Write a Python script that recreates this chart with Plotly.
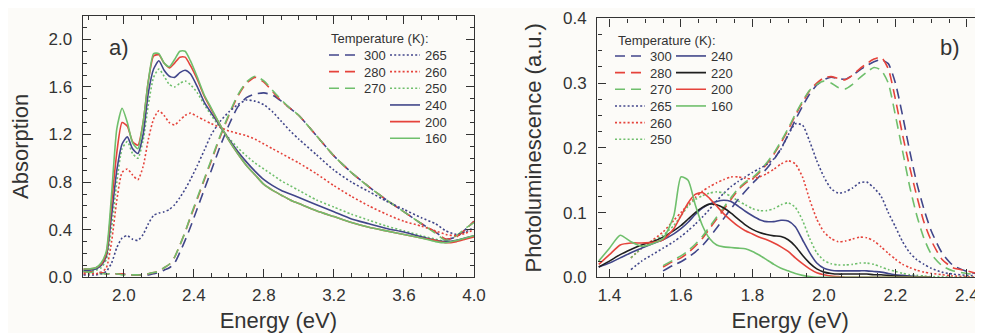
import plotly.graph_objects as go

# ---------------- data: panel a (absorption) ----------------
E_a = [1.77, 1.80, 1.84, 1.87, 1.90, 1.93, 1.96, 1.99, 2.02, 2.05, 2.08, 2.11, 2.14, 2.17, 2.20,
       2.23, 2.26, 2.29, 2.32, 2.35, 2.38, 2.42, 2.46, 2.50, 2.55, 2.60, 2.65, 2.70, 2.75, 2.80,
       2.85, 2.90, 2.95, 3.00, 3.10, 3.20, 3.30, 3.40, 3.50, 3.60, 3.70, 3.78, 3.84, 3.90, 3.95, 4.00]

abs_300 = [0.05, 0.05, 0.04, 0.04, 0.03, 0.03, 0.03, 0.03, 0.02, 0.02, 0.02, 0.02, 0.02, 0.03, 0.04,
           0.06, 0.08, 0.12, 0.21, 0.31, 0.42, 0.58, 0.74, 0.90, 1.10, 1.28, 1.43, 1.51, 1.54, 1.55,
           1.53, 1.48, 1.42, 1.36, 1.19, 1.02, 0.88, 0.76, 0.65, 0.55, 0.45, 0.38, 0.32, 0.34, 0.40, 0.47]
abs_280 = [0.04, 0.05, 0.04, 0.04, 0.03, 0.03, 0.03, 0.03, 0.02, 0.02, 0.02, 0.02, 0.03, 0.04, 0.05,
           0.08, 0.11, 0.17, 0.27, 0.38, 0.50, 0.66, 0.82, 0.98, 1.18, 1.36, 1.52, 1.63, 1.68, 1.64,
           1.56, 1.48, 1.42, 1.36, 1.19, 1.02, 0.88, 0.76, 0.65, 0.55, 0.45, 0.38, 0.32, 0.34, 0.40, 0.47]
abs_270 = [0.05, 0.04, 0.04, 0.03, 0.03, 0.03, 0.03, 0.02, 0.02, 0.02, 0.02, 0.02, 0.03, 0.04, 0.05,
           0.08, 0.11, 0.17, 0.27, 0.38, 0.51, 0.67, 0.83, 0.99, 1.19, 1.37, 1.53, 1.64, 1.69, 1.65,
           1.57, 1.49, 1.42, 1.36, 1.19, 1.02, 0.88, 0.76, 0.65, 0.55, 0.45, 0.37, 0.31, 0.35, 0.41, 0.46]
abs_265 = [0.02, 0.02, 0.02, 0.03, 0.05, 0.12, 0.25, 0.33, 0.35, 0.32, 0.31, 0.36, 0.45, 0.52, 0.54,
           0.55, 0.57, 0.61, 0.67, 0.74, 0.82, 0.94, 1.07, 1.20, 1.31, 1.39, 1.45, 1.49, 1.48, 1.45,
           1.39, 1.31, 1.23, 1.16, 1.03, 0.90, 0.80, 0.72, 0.64, 0.57, 0.50, 0.45, 0.39, 0.36, 0.38, 0.42]
abs_260 = [0.03, 0.03, 0.03, 0.04, 0.08, 0.30, 0.65, 0.88, 0.91, 0.86, 0.82, 0.93, 1.16, 1.33, 1.40,
           1.36, 1.30, 1.28, 1.32, 1.36, 1.38, 1.35, 1.32, 1.29, 1.26, 1.23, 1.21, 1.19, 1.16, 1.12,
           1.08, 1.04, 1.00, 0.96, 0.87, 0.77, 0.68, 0.60, 0.53, 0.47, 0.43, 0.39, 0.36, 0.35, 0.37, 0.40]
abs_250 = [0.05, 0.05, 0.06, 0.08, 0.15, 0.42, 0.80, 1.08, 1.14, 1.04, 1.00, 1.15, 1.45, 1.68, 1.75,
           1.69, 1.62, 1.60, 1.63, 1.65, 1.62, 1.55, 1.45, 1.36, 1.26, 1.17, 1.09, 1.02, 0.96, 0.91,
           0.86, 0.81, 0.77, 0.73, 0.65, 0.59, 0.53, 0.48, 0.43, 0.39, 0.35, 0.32, 0.30, 0.31, 0.33, 0.35]
abs_240 = [0.06, 0.06, 0.07, 0.10, 0.18, 0.52, 0.90, 1.12, 1.18, 1.08, 1.04, 1.20, 1.55, 1.75, 1.82,
           1.74, 1.69, 1.68, 1.72, 1.74, 1.71, 1.60, 1.47, 1.38, 1.27, 1.16, 1.06, 0.97, 0.89, 0.82,
           0.77, 0.73, 0.70, 0.67, 0.61, 0.55, 0.49, 0.45, 0.41, 0.38, 0.34, 0.31, 0.30, 0.31, 0.33, 0.35]
abs_200 = [0.07, 0.07, 0.08, 0.11, 0.20, 0.62, 1.05, 1.30, 1.27, 1.14, 1.11, 1.30, 1.65, 1.86, 1.87,
           1.80, 1.76, 1.80, 1.85, 1.85, 1.78, 1.66, 1.52, 1.41, 1.28, 1.15, 1.04, 0.94, 0.86, 0.78,
           0.73, 0.69, 0.65, 0.62, 0.56, 0.51, 0.46, 0.42, 0.39, 0.36, 0.33, 0.31, 0.29, 0.30, 0.32, 0.34]
abs_160 = [0.07, 0.07, 0.08, 0.12, 0.22, 0.70, 1.25, 1.42, 1.30, 1.13, 1.08, 1.30, 1.65, 1.88, 1.88,
           1.80, 1.77, 1.83, 1.90, 1.90, 1.82, 1.68, 1.53, 1.42, 1.28, 1.15, 1.04, 0.94, 0.86, 0.78,
           0.73, 0.69, 0.65, 0.62, 0.56, 0.51, 0.46, 0.42, 0.39, 0.36, 0.33, 0.30, 0.29, 0.31, 0.33, 0.35]

# ---------------- data: panel b (photoluminescence) ----------------
E_b = [1.37, 1.40, 1.43, 1.46, 1.49, 1.52, 1.55, 1.58,
       1.60, 1.62, 1.64, 1.66, 1.68, 1.70, 1.72, 1.74, 1.76, 1.78, 1.80, 1.82, 1.84, 1.86, 1.88, 1.90,
       1.92, 1.94, 1.96, 1.98, 2.00, 2.02, 2.04, 2.06, 2.08, 2.10, 2.12, 2.14, 2.16, 2.18, 2.20, 2.22,
       2.24, 2.26, 2.28, 2.30, 2.33, 2.36, 2.40, 2.44]

N = None
pl_300 = [N, N, N, N, N, N, 0.010, 0.019,
          0.024, 0.031, 0.039, 0.049, 0.062, 0.076, 0.091, 0.106, 0.120, 0.133, 0.145, 0.156, 0.168, 0.182, 0.199, 0.220,
          0.243, 0.264, 0.283, 0.297, 0.305, 0.309, 0.307, 0.306, 0.312, 0.320, 0.327, 0.333, 0.336, 0.330, 0.300, 0.250,
          0.195, 0.145, 0.105, 0.072, 0.038, 0.019, 0.009, 0.004]
pl_280 = [N, N, N, N, N, N, 0.016, 0.025,
          0.030, 0.038, 0.048, 0.060, 0.075, 0.090, 0.105, 0.120, 0.135, 0.145, 0.152, 0.162, 0.175, 0.190, 0.208, 0.228,
          0.250, 0.270, 0.288, 0.300, 0.308, 0.310, 0.307, 0.305, 0.312, 0.322, 0.330, 0.337, 0.340, 0.322, 0.275, 0.220,
          0.170, 0.125, 0.085, 0.057, 0.028, 0.015, 0.010, 0.004]
pl_270 = [N, N, N, N, N, N, 0.018, 0.027,
          0.033, 0.041, 0.051, 0.063, 0.078, 0.093, 0.108, 0.123, 0.137, 0.147, 0.154, 0.164, 0.177, 0.192, 0.210, 0.230,
          0.252, 0.272, 0.289, 0.298, 0.303, 0.300, 0.293, 0.291, 0.298, 0.308, 0.317, 0.324, 0.320, 0.300, 0.250, 0.195,
          0.140, 0.095, 0.060, 0.036, 0.018, 0.010, 0.006, 0.003]
pl_265 = [N, N, N, 0.012, 0.025, 0.035, 0.045, 0.055,
          0.063, 0.072, 0.082, 0.093, 0.105, 0.118, 0.130, 0.140, 0.148, 0.155, 0.162, 0.168, 0.174, 0.183, 0.198, 0.220,
          0.237, 0.235, 0.210, 0.180, 0.155, 0.137, 0.130, 0.132, 0.138, 0.146, 0.147, 0.138, 0.125, 0.100, 0.078, 0.055,
          0.038, 0.027, 0.020, 0.014, 0.008, 0.005, 0.003, 0.002]
pl_260 = [N, N, N, 0.030, 0.045, 0.057, 0.070, 0.088,
          0.100, 0.112, 0.123, 0.133, 0.140, 0.146, 0.151, 0.155, 0.155, 0.153, 0.152, 0.155, 0.160, 0.167, 0.175, 0.180,
          0.175, 0.155, 0.120, 0.090, 0.070, 0.060, 0.055, 0.056, 0.059, 0.062, 0.061, 0.056, 0.047, 0.037, 0.028, 0.020,
          0.015, 0.011, 0.008, 0.006, 0.004, 0.002, 0.001, 0.000]
pl_250 = [N, N, N, 0.030, 0.045, 0.055, 0.065, 0.080,
          0.095, 0.110, 0.120, 0.126, 0.130, 0.132, 0.130, 0.125, 0.118, 0.112, 0.106, 0.103, 0.103, 0.106, 0.112, 0.115,
          0.108, 0.088, 0.060, 0.038, 0.026, 0.021, 0.019, 0.019, 0.020, 0.022, 0.022, 0.020, 0.016, 0.012, 0.009, 0.006,
          0.004, 0.003, 0.002, 0.001, 0.001, 0.000, 0.000, 0.000]
pl_240 = [0.016, 0.022, 0.030, 0.038, 0.045, 0.052, 0.058, 0.067,
          0.075, 0.085, 0.097, 0.107, 0.113, 0.117, 0.119, 0.117, 0.110, 0.102, 0.095, 0.089, 0.086, 0.086, 0.088, 0.087,
          0.078, 0.058, 0.038, 0.022, 0.014, 0.011, 0.010, 0.010, 0.010, 0.010, 0.010, 0.009, 0.008, 0.006, 0.004, 0.003,
          0.002, 0.001, 0.000, 0.000, N, N, N, N]
pl_220 = [0.016, 0.025, 0.035, 0.043, 0.050, 0.055, 0.062, 0.072,
          0.080, 0.090, 0.100, 0.108, 0.113, 0.112, 0.107, 0.099, 0.090, 0.081, 0.074, 0.069, 0.066, 0.064, 0.063, 0.058,
          0.048, 0.034, 0.022, 0.013, 0.008, 0.006, 0.005, 0.005, 0.005, 0.005, 0.005, 0.004, 0.004, 0.003, 0.002, 0.001,
          0.001, 0.000, 0.000, 0.000, N, N, N, N]
pl_200 = [0.020, 0.035, 0.050, 0.053, 0.053, 0.054, 0.058, 0.075,
          0.095, 0.115, 0.128, 0.131, 0.122, 0.110, 0.098, 0.088, 0.079, 0.072, 0.067, 0.062, 0.058, 0.053, 0.047, 0.040,
          0.030, 0.021, 0.013, 0.007, 0.004, 0.002, 0.001, 0.000, 0.000, 0.000, 0.000, 0.000, 0.000, 0.000, 0.000, 0.000,
          0.000, 0.000, 0.000, 0.000, N, N, N, N]
pl_160 = [0.025, 0.045, 0.065, 0.055, 0.048, 0.052, 0.060, 0.095,
          0.155, 0.150, 0.112, 0.080, 0.060, 0.050, 0.047, 0.046, 0.045, 0.044, 0.040, 0.034, 0.027, 0.020, 0.014, 0.010,
          0.006, 0.003, 0.001, 0.000, 0.000, 0.000, 0.000, 0.000, 0.000, 0.000, 0.000, 0.000, 0.000, 0.000, 0.000, 0.000,
          0.000, 0.000, 0.000, 0.000, N, N, N, N]

# ---------------- styling ----------------
# The page body has an 8 px default margin, so the figure is sized to end at the
# window edge and screen positions are converted to figure positions.
OFF = 8
W, H = 983 - OFF, 333 - OFF


def SX(px):
    return (px - OFF) / W


def SY(py):
    return 1 - (py - OFF) / H


BG = "#fcfbf8"
AXC = "#333333"
NAVY = "#41468a"
RED = "#e5433b"
GREEN = "#6fbf6c"
BLACK = "#1f1f1f"
DASH = "10px,6px"
DOT = "2px,2.2px"
SOLID = "solid"
FONT = "Liberation Sans, Arial, sans-serif"

# (name, x, y, colour, dash, panel, legend-left px, legend-row-centre px)  -- screen px
series = [
    ("300", E_a, abs_300, NAVY, DASH, "a", 324, 55.0),
    ("280", E_a, abs_280, RED, DASH, "a", 324, 71.7),
    ("270", E_a, abs_270, GREEN, DASH, "a", 324, 88.3),
    ("265", E_a, abs_265, NAVY, DOT, "a", 385, 55.0),
    ("260", E_a, abs_260, RED, DOT, "a", 385, 71.7),
    ("250", E_a, abs_250, GREEN, DOT, "a", 385, 88.3),
    ("240", E_a, abs_240, NAVY, SOLID, "a", 385, 105.0),
    ("200", E_a, abs_200, RED, SOLID, "a", 385, 121.7),
    ("160", E_a, abs_160, GREEN, SOLID, "a", 385, 138.3),
    ("300", E_b, pl_300, NAVY, DASH, "b", 610, 56.0),
    ("280", E_b, pl_280, RED, DASH, "b", 610, 72.7),
    ("270", E_b, pl_270, GREEN, DASH, "b", 610, 89.3),
    ("265", E_b, pl_265, NAVY, DOT, "b", 610, 106.0),
    ("260", E_b, pl_260, RED, DOT, "b", 610, 122.7),
    ("250", E_b, pl_250, GREEN, DOT, "b", 610, 139.3),
    ("240", E_b, pl_240, NAVY, SOLID, "b", 671, 56.0),
    ("220", E_b, pl_220, BLACK, SOLID, "b", 671, 72.7),
    ("200", E_b, pl_200, RED, SOLID, "b", 671, 89.3),
    ("160", E_b, pl_160, GREEN, SOLID, "b", 671, 106.0),
]

fig = go.Figure()
legends = {}
for i, (name, xs, ys, col, dash, panel, lx, ly) in enumerate(series):
    key = "legend" if i == 0 else f"legend{i + 1}"
    fig.add_trace(go.Scatter(
        x=xs, y=ys, name=name, mode="lines",
        line=dict(color=col, width=1.6, dash=dash, shape="spline", smoothing=0.6),
        xaxis="x" if panel == "a" else "x2",
        yaxis="y" if panel == "a" else "y2",
        legend=key, connectgaps=False, hoverinfo="skip",
    ))
    legends[key] = dict(
        x=SX(lx), y=SY(ly), xanchor="left", yanchor="middle",
        bgcolor="rgba(0,0,0,0)", borderwidth=0,
        font=dict(family=FONT, size=13, color=AXC),
    )


def axis(domain, rng, dtick, minor, anchor, title, lab_off, title_off):
    return dict(
        domain=domain, range=rng, anchor=anchor, tick0=0, dtick=dtick, tickformat=".1f",
        ticks="inside", ticklen=8, tickwidth=1.4, tickcolor=AXC,
        showline=True, linecolor=AXC, linewidth=1.4, mirror="allticks",
        minor=dict(tick0=0, dtick=minor, ticks="inside", ticklen=4, tickwidth=1.2, tickcolor=AXC),
        showgrid=False, zeroline=False, automargin=False,
        tickfont=dict(family=FONT, size=17, color=AXC),
        ticklabelstandoff=lab_off,
        title=dict(text=title, standoff=title_off, font=dict(family=FONT, size=22, color=AXC)),
    )


xa = axis([SX(82.7), SX(474)], [1.765, 4.0], 0.4, 0.1, "y", "Energy (eV)", 2, 12)
ya = axis([SY(277.3), SY(15.5)], [0, 2.2], 0.4, 0.1, "x", "Absorption", 6, 15)
xb = axis([SX(597.3), 1.0], [1.366, 2.445], 0.2, 0.05, "y2", "Energy (eV)", 2, 12)
yb = axis([SY(277.3), SY(18.3)], [0, 0.4], 0.1, 0.025, "x2", "Photoluminescence (a.u.)", 6, 15)

fig.update_layout(
    width=W, height=H, margin=dict(l=0, r=0, t=0, b=0),
    paper_bgcolor=BG, plot_bgcolor=BG,
    font=dict(family=FONT, color=AXC),
    xaxis=xa, yaxis=ya, xaxis2=xb, yaxis2=yb,
    showlegend=True,
    annotations=[
        dict(text="a)", x=SX(107), y=SY(47), xref="paper", yref="paper",
             xanchor="left", yanchor="middle", showarrow=False,
             font=dict(family=FONT, size=22, color=AXC)),
        dict(text="b)", x=SX(962), y=SY(47), xref="paper", yref="paper",
             xanchor="right", yanchor="middle", showarrow=False,
             font=dict(family=FONT, size=22, color=AXC)),
        dict(text="Temperature (K):", x=SX(329), y=SY(38.5), xref="paper", yref="paper",
             xanchor="left", yanchor="middle", showarrow=False,
             font=dict(family=FONT, size=13, color=AXC)),
        dict(text="Temperature (K):", x=SX(616), y=SY(40), xref="paper", yref="paper",
             xanchor="left", yanchor="middle", showarrow=False,
             font=dict(family=FONT, size=13, color=AXC)),
    ],
    **legends,
)

fig.write_html("out.html")
